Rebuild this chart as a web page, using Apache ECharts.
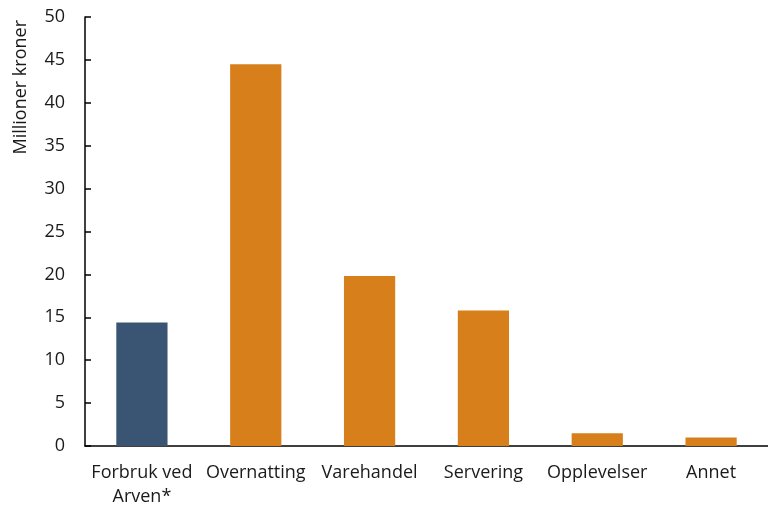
<!DOCTYPE html>
<html><head><meta charset="utf-8">
<script src="https://cdn.jsdelivr.net/npm/echarts@6/dist/echarts.min.js"></script>
<style>html,body{margin:0;padding:0;background:#fff}#c{width:768px;height:509px}</style>
</head><body><div id="c"></div>
<script>
const categories = ["Forbruk ved\nArven*", "Overnatting", "Varehandel", "Servering", "Opplevelser", "Annet"];
const values = [14.4, 44.5, 19.8, 15.8, 1.5, 1.0];
const barColors = ["#3A5573", "#D77F1B", "#D77F1B", "#D77F1B", "#D77F1B", "#D77F1B"];
const yTicks = { min: 0, max: 50, interval: 5 };
const yTitle = "Millioner kroner";

const font = "'Open Sans', sans-serif";
const chart = echarts.init(document.getElementById('c'), null, { renderer: 'canvas' });
chart.setOption({
  animation: false,
  backgroundColor: '#fff',
  grid: { left: 85, right: 0, top: 17, bottom: 61 },
  xAxis: {
    type: 'category', data: categories,
    axisLine: { lineStyle: { color: '#000', width: 1.5 } },
    axisTick: { show: false },
    axisLabel: { color: '#1a1a1a', fontSize: 18, fontFamily: font, margin: 15, lineHeight: 24, interval: 0 }
  },
  yAxis: {
    type: 'value', min: yTicks.min, max: yTicks.max, interval: yTicks.interval,
    axisLine: { show: true, lineStyle: { color: '#000', width: 1.5 } },
    axisTick: { show: true, inside: true, length: 6, lineStyle: { color: '#000', width: 1.5 } },
    splitLine: { show: false },
    axisLabel: { color: '#1a1a1a', fontSize: 18, fontFamily: font, margin: 20 }
  },
  graphic: [{
    type: 'text', left: 12, top: 20, rotation: Math.PI / 2,
    style: { text: yTitle, fontSize: 18, fontFamily: font, fill: '#1a1a1a' }
  }],
  series: [{
    type: 'bar', barWidth: '45%',
    data: values.map((v, i) => ({ value: v, itemStyle: { color: barColors[i] } }))
  }]
});
</script></body></html>
